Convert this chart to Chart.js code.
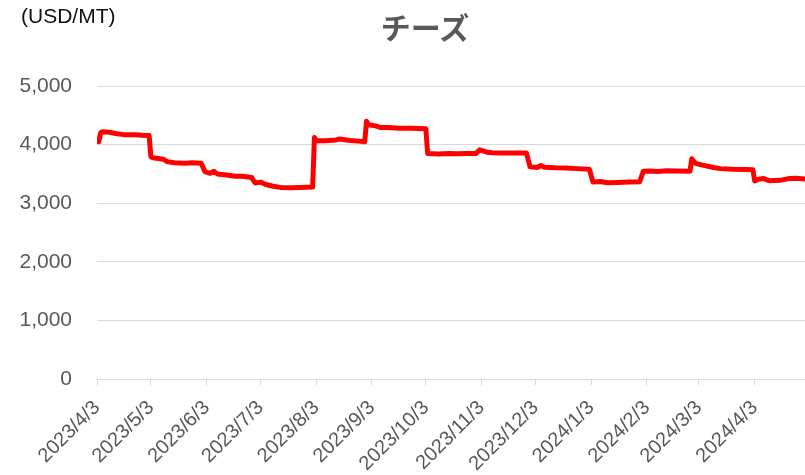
<!DOCTYPE html>
<html>
<head>
<meta charset="utf-8">
<script src="https://cdn.jsdelivr.net/npm/chart.js@4"></script>
<style>
  body { margin: 0; background: #fff; }
  #wrap { position: relative; width: 805px; height: 475px; }
  #unit { position: absolute; left: 21px; top: 4px; font: 21px "Liberation Sans", Arial, sans-serif; color: #111; }
  #title { position: absolute; left: 0; width: 850px; top: 4px; text-align: center; font: bold 30px "Noto Sans CJK JP", sans-serif; color: #595959; }
</style>
</head>
<body>
<div id="wrap">
  <canvas id="chart"></canvas>
  <div id="unit">(USD/MT)</div>
  <div id="title">チーズ</div>
</div>
<script>
const dates = [
  '2023/4/3', '2023/4/4', '2023/4/5', '2023/4/6', '2023/4/10', '2023/4/14', '2023/4/18', '2023/4/24', '2023/4/28', '2023/5/2',
  '2023/5/3', '2023/5/5', '2023/5/10', '2023/5/12', '2023/5/16', '2023/5/22', '2023/5/26', '2023/5/31',
  '2023/6/2', '2023/6/5', '2023/6/7', '2023/6/9', '2023/6/14', '2023/6/19', '2023/6/23', '2023/6/28',
  '2023/6/30', '2023/7/3', '2023/7/6', '2023/7/10', '2023/7/14', '2023/7/20', '2023/7/25', '2023/8/1',
  '2023/8/2', '2023/8/3', '2023/8/8', '2023/8/14', '2023/8/16', '2023/8/22', '2023/8/28', '2023/8/30',
  '2023/8/31', '2023/9/1', '2023/9/5', '2023/9/8', '2023/9/12', '2023/9/18', '2023/9/25', '2023/10/3',
  '2023/10/4', '2023/10/10', '2023/10/16', '2023/10/20', '2023/10/26', '2023/10/31',
  '2023/11/2', '2023/11/3', '2023/11/6', '2023/11/9', '2023/11/15', '2023/11/22', '2023/11/28',
  '2023/11/30', '2023/12/4', '2023/12/6', '2023/12/8', '2023/12/14', '2023/12/20', '2023/12/26', '2024/1/2',
  '2024/1/4', '2024/1/8', '2024/1/12', '2024/1/18', '2024/1/24', '2024/1/30',
  '2024/2/1', '2024/2/5', '2024/2/9', '2024/2/14', '2024/2/20', '2024/2/27',
  '2024/2/28', '2024/3/1', '2024/3/5', '2024/3/11', '2024/3/15', '2024/3/22', '2024/3/29', '2024/4/2',
  '2024/4/3', '2024/4/5', '2024/4/8', '2024/4/11', '2024/4/17', '2024/4/22', '2024/4/26', '2024/5/1'
];
const prices = [
  4060, 4050, 4200, 4220, 4210, 4185, 4170, 4170, 4160, 4155,
  3790, 3770, 3750, 3710, 3690, 3680, 3690, 3680,
  3540, 3510, 3545, 3500, 3480, 3460, 3460, 3440,
  3345, 3360, 3320, 3290, 3270, 3265, 3270, 3275,
  4120, 4065, 4065, 4080, 4095, 4070, 4055, 4050,
  4400, 4340, 4320, 4290, 4290, 4280, 4280, 4270,
  3850, 3840, 3850, 3845, 3850, 3850,
  3910, 3900, 3870, 3860, 3855, 3855, 3855,
  3620, 3610, 3645, 3615, 3605, 3600, 3590, 3580,
  3360, 3370, 3350, 3355, 3360, 3365,
  3545, 3550, 3540, 3555, 3550, 3545,
  3760, 3680, 3650, 3610, 3590, 3580, 3575, 3570,
  3380, 3410, 3420, 3385, 3390, 3420, 3425, 3415
];
const tickDates = [
  '2023/4/3', '2023/5/3', '2023/6/3', '2023/7/3', '2023/8/3', '2023/9/3', '2023/10/3',
  '2023/11/3', '2023/12/3', '2024/1/3', '2024/2/3', '2024/3/3', '2024/4/3'
];
const yTicks = [0, 1000, 2000, 3000, 4000, 5000];

function dayIndex(s) {
  const p = s.split('/').map(Number);
  const start = Date.UTC(2023, 3, 3);
  return Math.round((Date.UTC(p[0], p[1] - 1, p[2]) - start) / 86400000);
}

const points = dates.map((d, i) => ({ x: dayIndex(d), y: prices[i] }));
const tickLabels = {};
tickDates.forEach(d => { tickLabels[dayIndex(d)] = d; });

const grey = '#595959';
const gridColor = '#d9d9d9';

new Chart(document.getElementById('chart'), {
  type: 'line',
  data: {
    datasets: [{
      data: points,
      borderColor: '#ff0000',
      borderWidth: 5,
      pointRadius: 0,
      tension: 0,
      borderJoinStyle: 'round',
      borderCapStyle: 'round'
    }]
  },
  options: {
    responsive: true,
    maintainAspectRatio: false,
    animation: false,
    layout: { padding: { top: 86, left: 0, right: 0, bottom: 0 } },
    plugins: { legend: { display: false }, tooltip: { enabled: false } },
    scales: {
      x: {
        type: 'linear',
        min: 0,
        max: dayIndex('2024/5/1'),
        afterBuildTicks: scale => { scale.ticks = tickDates.map(d => ({ value: dayIndex(d) })); },
        afterFit: scale => { scale.height = 96; },
        grid: { drawOnChartArea: false, drawTicks: true, tickLength: 6, color: gridColor },
        border: { display: true, color: gridColor },
        ticks: {
          autoSkip: false,
          maxRotation: 45,
          minRotation: 45,
          padding: 11,
          color: grey,
          font: { family: '"Liberation Sans", Arial, sans-serif', size: 20 },
          callback: value => tickLabels[value] || ''
        }
      },
      y: {
        min: 0,
        max: 5000,
        afterBuildTicks: scale => { scale.ticks = yTicks.map(v => ({ value: v })); },
        afterFit: scale => { scale.width = 97; },
        grid: { color: gridColor, drawTicks: false },
        border: { display: false },
        ticks: {
          padding: 25,
          color: grey,
          font: { family: '"Liberation Sans", Arial, sans-serif', size: 21 },
          callback: value => value.toLocaleString('en-US')
        }
      }
    }
  }
});
</script>
</body>
</html>
